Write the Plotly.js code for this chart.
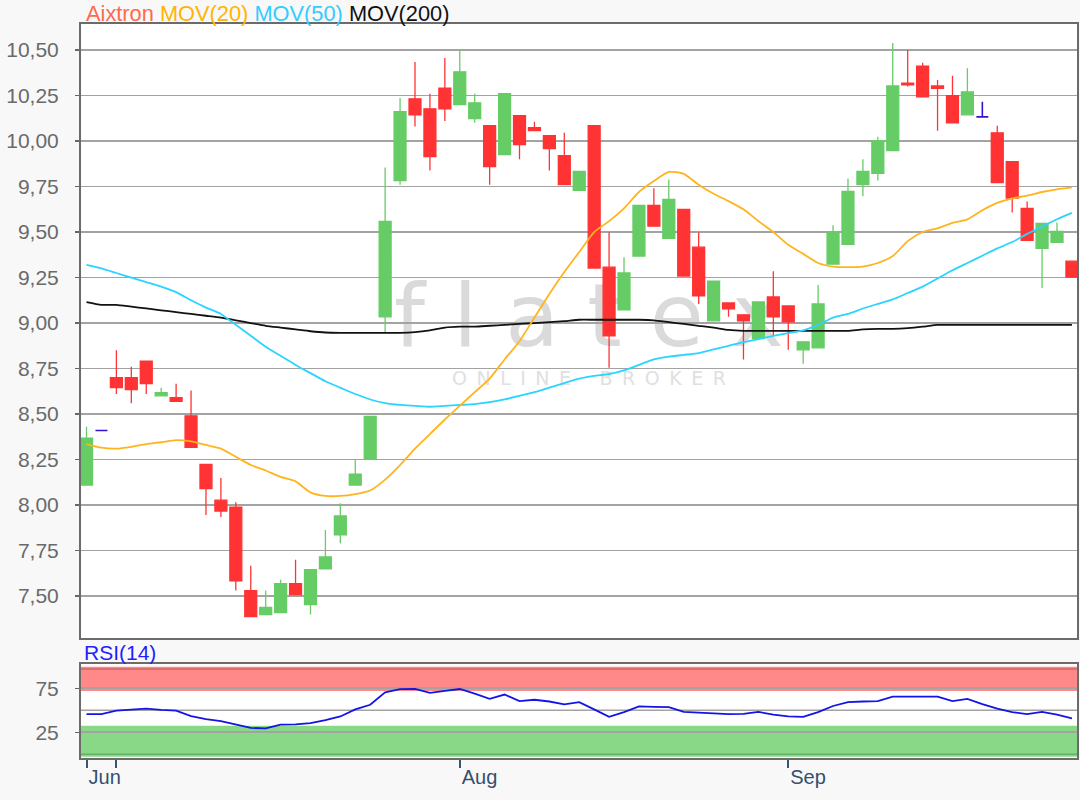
<!DOCTYPE html>
<html>
<head>
<meta charset="utf-8">
<script src="https://cdn.plot.ly/plotly-3.0.1.min.js"></script>
<style>
  html, body { margin: 0; padding: 0; background: #f8f8f8; }
  #chart { width: 1080px; height: 800px; }
</style>
</head>
<body>
<div id="chart"></div>
<script>
// ---- data (Aixtron, daily, 27 Jun 2019 – 27 Sep 2019) ----
const dates = [
  '2019-06-27','2019-06-28',
  '2019-07-01','2019-07-02','2019-07-03','2019-07-04','2019-07-05',
  '2019-07-08','2019-07-09','2019-07-10','2019-07-11','2019-07-12',
  '2019-07-15','2019-07-16','2019-07-17','2019-07-18','2019-07-19',
  '2019-07-22','2019-07-23','2019-07-24','2019-07-25','2019-07-26',
  '2019-07-29','2019-07-30','2019-07-31',
  '2019-08-01','2019-08-02',
  '2019-08-05','2019-08-06','2019-08-07','2019-08-08','2019-08-09',
  '2019-08-12','2019-08-13','2019-08-14','2019-08-15','2019-08-16',
  '2019-08-19','2019-08-20','2019-08-21','2019-08-22','2019-08-23',
  '2019-08-26','2019-08-27','2019-08-28','2019-08-29','2019-08-30',
  '2019-09-02','2019-09-03','2019-09-04','2019-09-05','2019-09-06',
  '2019-09-09','2019-09-10','2019-09-11','2019-09-12','2019-09-13',
  '2019-09-16','2019-09-17','2019-09-18','2019-09-19','2019-09-20',
  '2019-09-23','2019-09-24','2019-09-25','2019-09-26','2019-09-27'
];
const open  = [8.11,8.41,8.70,8.70,8.79,8.60,8.59,8.49,8.224,8.027,7.989,7.53,7.398,7.409,7.568,7.453,7.65,7.836,8.11,8.257,9.034,9.783,10.232,10.177,10.29,10.20,10.123,10.084,9.926,10.139,10.073,10.03,9.92,9.729,10.084,9.307,9.072,9.368,9.647,9.466,9.625,9.417,9.012,9.11,9.045,8.914,9.143,9.094,8.853,8.864,9.324,9.433,9.76,9.822,9.947,10.318,10.412,10.303,10.25,10.144,10.133,10.045,9.887,9.63,9.411,9.444,9.34];
const high  = [8.43,8.41,8.85,8.76,8.79,8.645,8.667,8.63,8.224,8.148,8.016,7.666,7.53,7.59,7.70,7.645,7.863,8.01,8.25,8.487,9.855,10.237,10.434,10.26,10.456,10.50,10.26,10.084,10.26,10.139,10.106,10.03,10.045,9.833,10.084,9.499,9.362,9.647,9.74,9.789,9.625,9.499,9.23,9.11,9.045,9.116,9.285,9.094,8.897,9.209,9.537,9.794,9.90,10.024,10.538,10.50,10.43,10.336,10.358,10.40,10.216,10.084,9.887,9.668,9.548,9.553,9.34];
const low   = [8.11,8.41,8.61,8.56,8.61,8.60,8.57,8.317,7.945,7.934,7.53,7.387,7.398,7.409,7.508,7.398,7.65,7.79,8.11,8.257,8.95,9.76,10.08,9.838,10.11,10.20,10.10,9.76,9.926,9.90,10.057,9.838,9.76,9.729,9.302,8.755,9.072,9.368,9.532,9.466,9.258,9.105,9.012,9.034,8.80,8.914,8.93,8.853,8.777,8.864,9.324,9.433,9.696,9.783,9.947,10.30,10.243,10.057,10.10,10.144,10.133,9.772,9.608,9.455,9.193,9.444,9.253];
const close = [8.367,8.41,8.645,8.635,8.667,8.618,8.57,8.317,8.09,7.967,7.584,7.387,7.437,7.568,7.508,7.645,7.715,7.94,8.17,8.487,9.559,10.161,10.144,9.915,10.177,10.38,10.21,9.86,10.26,9.98,10.057,9.958,9.76,9.833,9.302,8.93,9.275,9.647,9.532,9.68,9.258,9.149,9.23,9.078,9.012,9.116,9.034,9.007,8.897,9.105,9.499,9.723,9.833,10.002,10.303,10.308,10.243,10.29,10.10,10.27,10.133,9.772,9.686,9.455,9.548,9.504,9.253];
const mov20 = [8.335,8.315,8.31,8.32,8.335,8.345,8.357,8.35,8.33,8.31,8.265,8.22,8.19,8.155,8.13,8.07,8.05,8.05,8.06,8.08,8.14,8.22,8.31,8.39,8.47,8.545,8.62,8.695,8.80,8.90,9.03,9.16,9.28,9.39,9.50,9.56,9.63,9.72,9.78,9.83,9.82,9.76,9.71,9.67,9.625,9.56,9.50,9.43,9.38,9.33,9.31,9.307,9.31,9.33,9.368,9.45,9.50,9.52,9.55,9.57,9.62,9.66,9.685,9.70,9.72,9.735,9.745];
const mov50 = [9.32,9.30,9.275,9.25,9.225,9.20,9.17,9.125,9.085,9.05,8.99,8.93,8.87,8.82,8.77,8.725,8.68,8.645,8.61,8.58,8.56,8.55,8.545,8.54,8.545,8.55,8.555,8.565,8.58,8.60,8.62,8.645,8.67,8.695,8.71,8.72,8.74,8.77,8.80,8.815,8.825,8.835,8.855,8.875,8.895,8.912,8.93,8.945,8.96,8.99,9.03,9.05,9.08,9.105,9.13,9.165,9.20,9.245,9.29,9.33,9.37,9.41,9.445,9.49,9.53,9.57,9.605];
const mov200 = [9.115,9.10,9.10,9.09,9.08,9.07,9.06,9.05,9.04,9.03,9.015,9.00,8.985,8.975,8.965,8.955,8.948,8.946,8.946,8.946,8.946,8.946,8.95,8.96,8.975,8.98,8.98,8.985,8.99,8.995,9.00,9.005,9.01,9.018,9.018,9.018,9.018,9.018,9.015,9.005,8.995,8.985,8.975,8.962,8.957,8.957,8.957,8.957,8.957,8.957,8.957,8.957,8.965,8.968,8.968,8.972,8.98,8.99,8.99,8.99,8.99,8.99,8.99,8.99,8.99,8.99,8.99];
const rsi = [45.6,45.6,49.6,50.5,51.8,50.5,49.6,43.3,40.0,37.7,34.0,30.0,29.4,33.8,34.0,35.5,38.8,43.0,51.0,56.3,70.5,74.0,74.2,69.8,72.0,74.2,69.0,63.0,67.9,60.4,62.0,60.0,56.7,59.3,51.0,42.5,48.0,54.4,54.0,53.7,48.2,47.5,46.0,45.6,46.0,48.2,45.0,43.0,42.5,48.0,54.9,59.3,60.0,60.5,65.6,65.6,65.6,65.6,60.4,63.0,57.0,51.8,48.0,45.6,48.2,45.0,40.7];
const tickDates = ['2019-06-27','2019-07-01','2019-08-01','2019-09-02'];
const tickLabels = ['Jun','','Aug','Sep'];

// ---- styles ----
const GREEN = 'rgb(102,204,102)';
const RED = 'rgb(255,51,51)';
const BLUE = 'rgb(58,16,208)';
const FONT = 'Liberation Sans, Arial, sans-serif';

const mainIdx = [], dojiIdx = [];
dates.forEach((d, i) => (open[i] === close[i] ? dojiIdx : mainIdx).push(i));
const pick = (arr, idx) => idx.map(i => arr[i]);

const candles = {
  type: 'candlestick', xaxis: 'x', yaxis: 'y',
  x: pick(dates, mainIdx), open: pick(open, mainIdx), high: pick(high, mainIdx),
  low: pick(low, mainIdx), close: pick(close, mainIdx),
  whiskerwidth: 0,
  increasing: { line: { color: GREEN, width: 1.3 }, fillcolor: GREEN },
  decreasing: { line: { color: RED, width: 1.3 }, fillcolor: RED },
  hoverinfo: 'skip', showlegend: false
};
const dojis = {
  type: 'candlestick', xaxis: 'x', yaxis: 'y',
  x: pick(dates, dojiIdx), open: pick(open, dojiIdx), high: pick(high, dojiIdx),
  low: pick(low, dojiIdx), close: pick(close, dojiIdx),
  whiskerwidth: 0,
  increasing: { line: { color: BLUE, width: 1.6 }, fillcolor: BLUE },
  decreasing: { line: { color: BLUE, width: 1.6 }, fillcolor: BLUE },
  hoverinfo: 'skip', showlegend: false
};
const lineTrace = (y, color) => ({
  type: 'scatter', mode: 'lines', x: dates, y: y, xaxis: 'x', yaxis: 'y',
  line: { color: color, width: 1.8, shape: 'spline', smoothing: 0.6 },
  hoverinfo: 'skip', showlegend: false
});
const rsiTrace = {
  type: 'scatter', mode: 'lines', x: dates, y: rsi, xaxis: 'x2', yaxis: 'y2',
  line: { color: '#1414e6', width: 1.8 }, hoverinfo: 'skip', showlegend: false
};

const frame = { showline: true, mirror: true, linecolor: '#6b6b6b', linewidth: 2 };
const xRange = [-0.37, 66.34];

const layout = {
  width: 1080, height: 800,
  paper_bgcolor: '#f8f8f8', plot_bgcolor: '#ffffff',
  margin: { l: 81, r: 3, t: 24, b: 42 },
  separators: ',.',
  boxgap: 0.2, boxgroupgap: 0,
  showlegend: false, hovermode: false, dragmode: false,
  font: { family: FONT, size: 20, color: '#666' },
  xaxis: Object.assign({
    type: 'category', categoryorder: 'array', categoryarray: dates,
    range: xRange, domain: [0, 1], anchor: 'y',
    showgrid: false, showticklabels: false, ticks: '', zeroline: false,
    rangeslider: { visible: false }, fixedrange: true
  }, frame),
  yaxis: Object.assign({
    domain: [0.1631, 1], range: [7.268, 10.643], anchor: 'x',
    tick0: 7.5, dtick: 0.25, tickformat: '.2f',
    showgrid: true, gridcolor: '#a3a3a3', gridwidth: 1.6,
    ticks: 'outside', ticklen: 4, tickcolor: '#666', tickwidth: 1.5,
    ticklabelstandoff: 12,
    tickfont: { family: FONT, size: 21, color: '#6a6a6a' },
    zeroline: false, fixedrange: true
  }, frame),
  xaxis2: Object.assign({
    type: 'category', categoryorder: 'array', categoryarray: dates,
    range: xRange, domain: [0, 1], anchor: 'y2', matches: 'x',
    showgrid: false, zeroline: false,
    tickmode: 'array', tickvals: tickDates, ticktext: tickLabels,
    ticks: 'outside', ticklen: 8, tickwidth: 2, tickcolor: '#3a5572',
    ticklabelposition: 'outside right',
    tickfont: { family: FONT, size: 20, color: '#34506e' },
    rangeslider: { visible: false }, fixedrange: true
  }, frame),
  yaxis2: Object.assign({
    domain: [0, 0.1277], range: [-4.2, 102.3], anchor: 'x2',
    tickmode: 'array', tickvals: [25, 75], ticktext: ['25', '75'],
    showgrid: true, gridcolor: '#a3a3a3', gridwidth: 1.6,
    ticks: 'outside', ticklen: 4, tickcolor: '#666', tickwidth: 1.5,
    ticklabelstandoff: 12,
    tickfont: { family: FONT, size: 21, color: '#6a6a6a' },
    zeroline: false, fixedrange: true
  }, frame),
  shapes: [
    { type: 'rect', xref: 'x2 domain', yref: 'y2', x0: 0, x1: 1, y0: 72, y1: 99.5,
      fillcolor: 'rgb(255,136,136)', line: { width: 0 }, layer: 'below' },
    { type: 'rect', xref: 'x2 domain', yref: 'y2', x0: 0, x1: 1, y0: -2.8, y1: 32.5,
      fillcolor: 'rgb(136,216,136)', line: { width: 0 }, layer: 'below' },
    { type: 'line', xref: 'x2 domain', yref: 'y2', x0: 0, x1: 1, y0: 97, y1: 97,
      line: { color: 'rgba(120,40,40,0.35)', width: 1.5 }, layer: 'below' },
    { type: 'line', xref: 'x2 domain', yref: 'y2', x0: 0, x1: 1, y0: 0, y1: 0,
      line: { color: 'rgba(40,100,40,0.35)', width: 1.5 }, layer: 'below' },
    { type: 'line', xref: 'x2 domain', yref: 'y2', x0: 0, x1: 1, y0: 50, y1: 50,
      line: { color: '#a3a3a3', width: 1.6 }, layer: 'below' },
    { type: 'rect', xref: 'x domain', yref: 'y domain', x0: 0.3, x1: 0.72, y0: 0.47, y1: 0.6,
      line: { width: 0 }, fillcolor: 'rgba(0,0,0,0)', layer: 'below',
      label: { text: 'f l a t e x', textposition: 'middle center',
               font: { family: 'DejaVu Sans', size: 88, color: '#dadada' } } },
    { type: 'rect', xref: 'x domain', yref: 'y domain', x0: 0.3, x1: 0.72, y0: 0.40, y1: 0.45,
      line: { width: 0 }, fillcolor: 'rgba(0,0,0,0)', layer: 'below',
      label: { text: 'O\u2002N\u2002L\u2002I\u2002N\u2002E\u2003\u2002B\u2002R\u2002O\u2002K\u2002E\u2002R',
               textposition: 'middle center',
               font: { family: 'DejaVu Sans', size: 19, color: '#e0e0e0' } } }
  ],
  annotations: [
    { xref: 'paper', yref: 'paper', x: 0.003, y: 1, yshift: 11, xanchor: 'left', yanchor: 'middle',
      showarrow: false, font: { family: FONT, size: 21.8 },
      text: '<span style="color:#ff6a4a">Aixtron</span> <span style="color:#ffb400">MOV(20)</span> ' +
            '<span style="color:#33ccff">MOV(50)</span> <span style="color:#111111">MOV(200)</span>' },
    { xref: 'paper', yref: 'paper', x: 0.001, y: 0.1444, xanchor: 'left', yanchor: 'middle',
      showarrow: false, font: { family: FONT, size: 21, color: '#1f1fff' }, text: 'RSI(14)' }
  ]
};

const traces = [
  rsiTrace,
  lineTrace(mov200, '#111111'),
  lineTrace(mov50, '#2ad4ff'),
  lineTrace(mov20, '#ffb41e'),
  candles, dojis
];

Plotly.newPlot('chart', traces, layout, { displayModeBar: false, staticPlot: true });
</script>
</body>
</html>
